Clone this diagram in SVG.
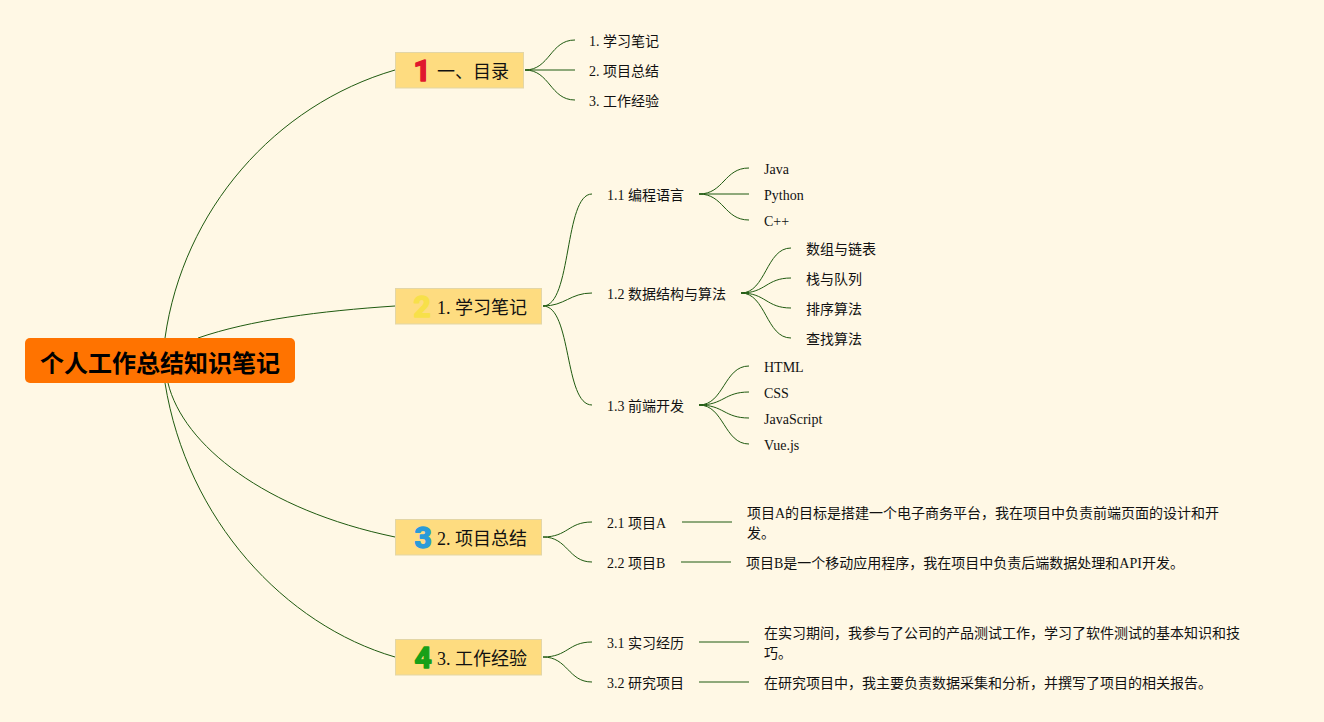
<svg xmlns="http://www.w3.org/2000/svg" width="1324" height="722" viewBox="0 0 1324 722">
<style>
text{font-family:"Liberation Serif","Noto Sans CJK SC",serif;fill:#111;font-size:14px}
.b{font-size:18px}
.r{font-size:24px;font-weight:700;fill:#000;font-family:"Liberation Sans","Noto Sans CJK SC",sans-serif}
.n{font-size:30px;font-weight:700;font-family:Roboto,sans-serif;stroke-width:1.5;stroke-linejoin:round;text-anchor:middle}
.box{fill:#fedc80;stroke:#e3d6a6;stroke-width:1}
.c path{fill:none;stroke:#1f5a10;stroke-width:1}
</style>
<rect width="1324" height="722" fill="#fff8e5"/>
<g class="c" id="connectors">
<path d="M165 338C183 210 275 105 395 70"/>
<path d="M198 338C250 320 320 311 395 306"/>
<path d="M168 383C183 445 265 510 395 537"/>
<path d="M165 383C187 520 285 625 395 657"/>
<path d="M525 70C550 70 550 40 575 40"/>
<path d="M525 70H575"/>
<path d="M525 70C550 70 550 100 575 100"/>
<path d="M543 306C572 306 564 194 592 194"/>
<path d="M543 306C565 306 570 293 592 293"/>
<path d="M543 306C572 306 564 405 592 405"/>
<path d="M699 194C724 194 724 168 749 168"/>
<path d="M699 194H749"/>
<path d="M699 194C724 194 724 220 749 220"/>
<path d="M741 293C766 293 766 248 791 248"/>
<path d="M741 293C766 293 766 278 791 278"/>
<path d="M741 293C766 293 766 308 791 308"/>
<path d="M741 293C766 293 766 338 791 338"/>
<path d="M699 405C724 405 724 366 749 366"/>
<path d="M699 405C724 405 724 392 749 392"/>
<path d="M699 405C724 405 724 418 749 418"/>
<path d="M699 405C724 405 724 444 749 444"/>
<path d="M543 537C568 537 568 522 592 522"/>
<path d="M543 537C568 537 568 562 592 562"/>
<path d="M682 522H732"/>
<path d="M681 562H731"/>
<path d="M543 657C568 657 568 642 592 642"/>
<path d="M543 657C568 657 568 682 592 682"/>
<path d="M699 642H749"/>
<path d="M699 682H749"/>
</g>
<g id="root"><rect x="25" y="338" width="270" height="45" rx="5" fill="#ff7300"/><text class="r" x="160" y="372" text-anchor="middle">个人工作总结知识笔记</text></g>
<g id="n1"><rect class="box" x="395.5" y="52.5" width="128" height="35.5"/><text class="n" x="422" y="81" style="fill:#e0182d;stroke:#e0182d">1</text><text class="b" x="437" y="78">一、目录</text></g>
<g id="n2"><rect class="box" x="395.5" y="288.5" width="146" height="35.5"/><text class="n" x="422" y="317" style="fill:#f7e04a;stroke:#f7e04a">2</text><text class="b" x="437" y="314">1. 学习笔记</text></g>
<g id="n3"><rect class="box" x="395.5" y="519.5" width="146" height="35.5"/><text class="n" x="423" y="548" style="fill:#2a9bd8;stroke:#2a9bd8">3</text><text class="b" x="437" y="545">2. 项目总结</text></g>
<g id="n4"><rect class="box" x="395.5" y="639.5" width="146" height="35.5"/><text class="n" x="423" y="668" style="fill:#18a018;stroke:#18a018">4</text><text class="b" x="437" y="665">3. 工作经验</text></g>
<g id="l1a"><text x="589" y="46">1. 学习笔记</text></g>
<g id="l1b"><text x="589" y="76">2. 项目总结</text></g>
<g id="l1c"><text x="589" y="106">3. 工作经验</text></g>
<g id="s11"><text x="607" y="200">1.1 编程语言</text></g>
<g id="s12"><text x="607" y="299">1.2 数据结构与算法</text></g>
<g id="s13"><text x="607" y="411">1.3 前端开发</text></g>
<g id="t1"><text x="764" y="174">Java</text></g>
<g id="t2"><text x="764" y="200">Python</text></g>
<g id="t3"><text x="764" y="226">C++</text></g>
<g id="t4"><text x="806" y="254">数组与链表</text></g>
<g id="t5"><text x="806" y="284">栈与队列</text></g>
<g id="t6"><text x="806" y="314">排序算法</text></g>
<g id="t7"><text x="806" y="344">查找算法</text></g>
<g id="t8"><text x="764" y="372">HTML</text></g>
<g id="t9"><text x="764" y="398">CSS</text></g>
<g id="t10"><text x="764" y="424">JavaScript</text></g>
<g id="t11"><text x="764" y="450">Vue.js</text></g>
<g id="s21"><text x="607" y="528">2.1 项目A</text></g>
<g id="s22"><text x="607" y="568">2.2 项目B</text></g>
<g id="d1"><text x="747" y="518">项目A的目标是搭建一个电子商务平台，我在项目中负责前端页面的设计和开</text><text x="747" y="538">发。</text></g>
<g id="d2"><text x="746" y="568">项目B是一个移动应用程序，我在项目中负责后端数据处理和API开发。</text></g>
<g id="s31"><text x="607" y="648">3.1 实习经历</text></g>
<g id="s32"><text x="607" y="688">3.2 研究项目</text></g>
<g id="d3"><text x="764" y="638">在实习期间，我参与了公司的产品测试工作，学习了软件测试的基本知识和技</text><text x="764" y="658">巧。</text></g>
<g id="d4"><text x="764" y="688">在研究项目中，我主要负责数据采集和分析，并撰写了项目的相关报告。</text></g>
</svg>
